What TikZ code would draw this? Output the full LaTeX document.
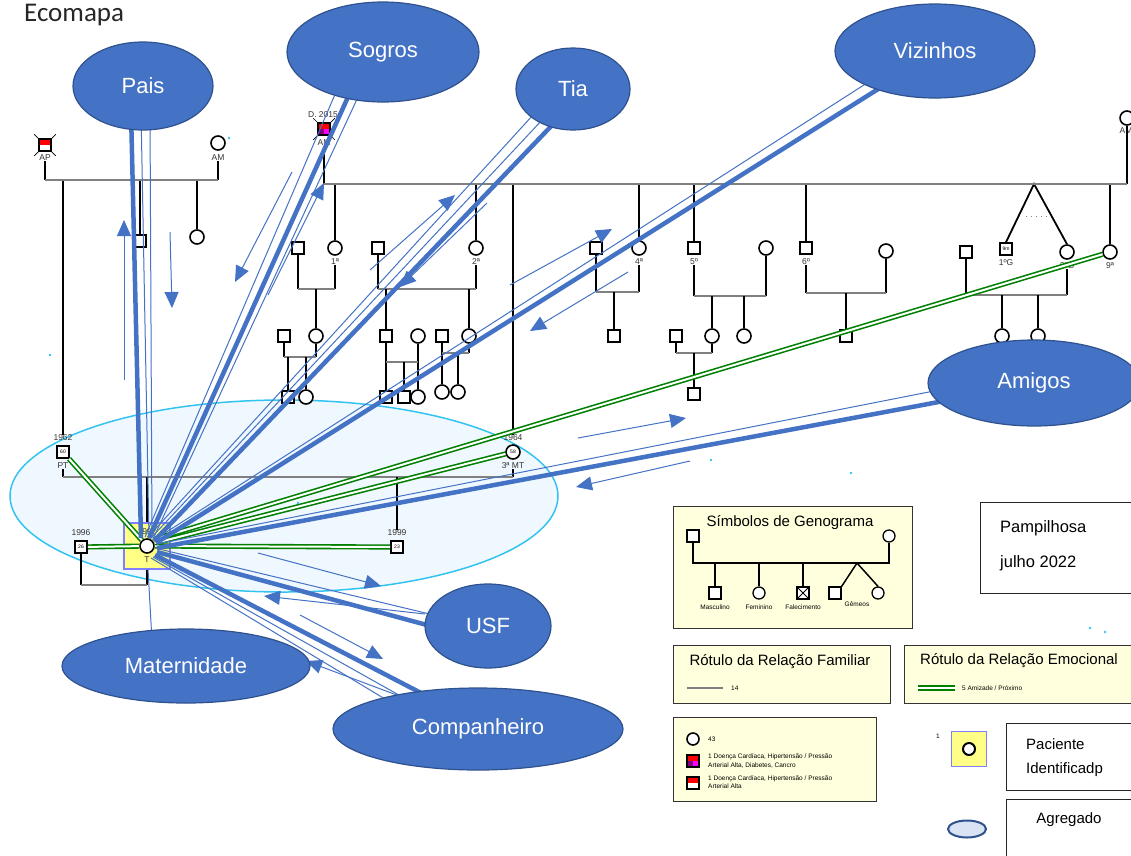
\documentclass[tikz,border=0pt]{standalone}
\usepackage{fontspec}
\setmainfont{Liberation Sans}
\newfontfamily\titlefont{Carlito}
\usetikzlibrary{shapes.geometric,arrows.meta,calc}
\definecolor{ecoblue}{HTML}{4472C4}
\definecolor{ecoedge}{HTML}{2F528F}
\definecolor{famgray}{HTML}{808080}
\definecolor{emogreen}{HTML}{008000}
\definecolor{legfill}{HTML}{FFFFDD}
\definecolor{hhfill}{HTML}{F0F8FF}
\definecolor{hhedge}{HTML}{33C3F0}
\definecolor{ptfill}{HTML}{FFFF88}
\definecolor{ptedge}{HTML}{7F7FFF}
\definecolor{dpurple}{HTML}{800080}
\definecolor{dmagenta}{HTML}{FF00FF}
\definecolor{dred}{HTML}{FF0000}
\definecolor{aggfill}{HTML}{DAE3F3}
\newcommand{\agefont}{\fontsize{5}{5}\selectfont}
\pgfdeclarelayer{back}
\pgfdeclarelayer{front}
\pgfsetlayers{back,main,front}
\tikzset{
  eco/.style={ellipse, draw=ecoedge, line width=1.2pt, fill=ecoblue, text=white, font=\fontsize{22}{26}\selectfont, inner sep=0pt},
  male/.style={rectangle, draw=black, line width=1.6pt, fill=white, minimum size=12pt, inner sep=0pt},
  female/.style={circle, draw=black, line width=1.6pt, fill=white, minimum size=14pt, inner sep=0pt},
  lbl/.style={font=\fontsize{8.5}{9}\selectfont, text=black!80, inner sep=0pt},
  fam/.style={draw=famgray, line width=1.8pt},
  desc/.style={draw=black, line width=1.8pt},
  emo/.style={draw=emogreen, double=white, double distance=2pt, line width=1.6pt},
  bthick/.style={draw=ecoblue, line width=4.5pt},
  bthin/.style={draw=ecoblue, line width=1pt},
  barrow/.style={draw=ecoblue, line width=1pt, -{Triangle[length=16pt,width=14pt]}},
  legbox/.style={draw=black!80, line width=1pt, fill=legfill, anchor=north west, inner sep=0pt},
  wbox/.style={draw=black!85, line width=1pt, fill=white, anchor=north west, inner sep=0pt},
  legtitle/.style={font=\fontsize{15}{18}\selectfont, inner sep=0pt},
  bigtxt/.style={font=\fontsize{16.5}{19}\selectfont, inner sep=0pt, anchor=west},
  legsmall/.style={font=\fontsize{6.5}{8.5}\selectfont, inner sep=0pt, align=left},
  legline/.style={draw=black, line width=1.5pt},
  halfred/.style={path picture={\fill[dred] (path picture bounding box.north west) rectangle (path picture bounding box.east);}},
  quadfill/.style={path picture={\fill[dred] (path picture bounding box.north west) rectangle (path picture bounding box.east);
     \fill[dpurple] (path picture bounding box.west) rectangle (path picture bounding box.south);
     \fill[dmagenta] (path picture bounding box.center) rectangle (path picture bounding box.south east);}},
  crossed/.style={path picture={\draw[black, line width=0.8pt] (path picture bounding box.north west) -- (path picture bounding box.south east) (path picture bounding box.north east) -- (path picture bounding box.south west);}},
}
\begin{document}
\begin{tikzpicture}[x=1pt,y=-1pt]
\useasboundingbox (0,0) rectangle (1131,855);

% ---------- ecomap circles (front layer) ----------
\begin{pgfonlayer}{front}
\node[eco, minimum width=140pt, minimum height=88pt] (pais) at (143,86) {Pais};
\node[eco, minimum width=192pt, minimum height=100pt] (sogros) at (383,52) {Sogros};
\node[eco, minimum width=114pt, minimum height=82pt] (tia) at (573,89) {Tia};
\node[eco, minimum width=200pt, minimum height=94pt] (vizinhos) at (935,51) {Vizinhos};
\node[eco, minimum width=212pt, minimum height=86pt] (amigos) at (1034,383) {Amigos};
\node[eco, minimum width=126pt, minimum height=84pt] (usf) at (488,626) {USF};
\node[eco, minimum width=248pt, minimum height=74pt] (mat) at (186,666) {Maternidade};
\node[eco, minimum width=290pt, minimum height=82pt] (comp) at (478,729) {Companheiro};
\end{pgfonlayer}

% ---------- household ----------
\begin{pgfonlayer}{back}
\node[ellipse, draw=hhedge, fill=hhfill, line width=1.5pt, minimum width=548pt, minimum height=192pt] (hh) at (284,496) {};
\end{pgfonlayer}

\node[font=\titlefont\fontsize{27}{30}\selectfont, anchor=west, inner sep=0pt, text=black!85] (title) at (24,15) {Ecomapa};

% ---------- generation 1 left ----------
\node[male, halfred] (ap) at (45,145) {};
\node[lbl] (lap) at (45,158) {AP};
\node[female] (am1) at (218,143) {};
\node[lbl] (lam1) at (218,158) {AM};
\coordinate (m1l) at (45,180);
\coordinate (m1r) at (218,180);
\draw[desc] (lap.south) -- (m1l);
\draw[desc] (lam1.south) -- (m1r);
\node[male] (s1) at (140,241) {};
\node[female] (f1) at (197,237) {};
\node[lbl] (ypt) at (63,438) {1962};
\node[male] (pt) at (63,452) {\agefont 60};
\node[lbl] (lpt) at (63,466) {PT};
\draw[desc] (ypt.north) -- (ypt.north |- m1l);
\draw[desc] (s1.north) -- (s1.north |- m1l);
\draw[desc] (f1.north) -- (f1.north |- m1l);
\draw[fam] (m1l) -- (m1r);

% ---------- generation 1 right ----------
\node[lbl] (yamd) at (323,115) {D. 2015};
\node[male, quadfill] (amd) at (324,129) {};
\node[lbl] (lamd) at (324,143) {AM};
\node[female] (am2) at (1127,118) {};
\node[lbl] (lam2) at (1126,131) {AM};
\begin{pgfonlayer}{back}
\draw[black, line width=0.7pt] ($(ap.north west)+(-4,-4)$) -- ($(ap.south east)+(4,4)$) ($(ap.north east)+(4,-4)$) -- ($(ap.south west)+(-4,4)$);
\draw[black, line width=0.7pt] ($(amd.north west)+(-4,-4)$) -- ($(amd.south east)+(4,4)$) ($(amd.north east)+(4,-4)$) -- ($(amd.south west)+(-4,4)$);
\end{pgfonlayer}
\coordinate (m2l) at (324,184);
\coordinate (m2r) at (1127,184);
\draw[desc] (lamd.south) -- (m2l);
\draw[desc] (am2.south) -- (m2r);

% children of generation 2
\node[female] (c1) at (335,248) {}; \node[lbl] (lc1) at (335,262) {1ª};
\node[female] (c2) at (476,248) {}; \node[lbl] (lc2) at (476,262) {2ª};
\node[female] (c4) at (639,248) {}; \node[lbl] (lc4) at (639,262) {4ª};
\node[male] (c5) at (694,248) {}; \node[lbl] (lc5) at (694,262) {5º};
\node[male] (c6) at (806,248) {}; \node[lbl] (lc6) at (806,262) {6º};
\node[male] (g1) at (1006,249) {\agefont 9m}; \node[lbl] (lg1) at (1006,263) {1ºG};
\node[female] (g2) at (1067,252) {}; \node[lbl] (lg2) at (1067,266) {2ºG};
\node[female] (c9) at (1110,252) {}; \node[lbl] (lc9) at (1110,266) {9ª};
\foreach \n in {c1,c2,c4,c5,c6,c9} \draw[desc] (\n.north) -- (\n.north |- m2l);
\coordinate (tw) at (1034,184);
\draw[desc] (g1.north) -- (tw) -- (g2.north);
\coordinate (dt1) at (1026,216);
\coordinate (dt2) at (1050,216);
\draw[famgray, line width=0.8pt, dash pattern=on 1pt off 4pt] (dt1) -- (dt2);

\node[lbl] (ymt) at (513,438) {1964};
\node[female] (mt) at (513,452) {\agefont 58};
\node[lbl] (lmt) at (513,466) {3ª MT};
\draw[desc] (ymt.north) -- (ymt.north |- m2l);
\draw[fam] (m2l) -- (m2r);

% spouses
\node[male] (sp1) at (298,248) {};
\node[male] (sp2) at (378,248) {};
\node[male] (sp4) at (596,248) {};
\node[female] (sp5) at (766,248) {};
\node[female] (sp6) at (886,251) {};
\node[male] (spg) at (966,252) {};

\coordinate (mAl) at (298,289); \coordinate (mAr) at (335,289);
\draw[desc] (sp1.south) -- (mAl); \draw[desc] (lc1.south) -- (mAr); \draw[fam] (mAl) -- (mAr);
\coordinate (mBl) at (378,289); \coordinate (mBr) at (476,289);
\draw[desc] (sp2.south) -- (mBl); \draw[desc] (lc2.south) -- (mBr); \draw[fam] (mBl) -- (mBr);
\coordinate (mCl) at (596,292); \coordinate (mCr) at (639,292);
\draw[desc] (sp4.south) -- (mCl); \draw[desc] (lc4.south) -- (mCr); \draw[fam] (mCl) -- (mCr);
\coordinate (mDl) at (694,296); \coordinate (mDr) at (766,296);
\draw[desc] (lc5.south) -- (mDl); \draw[desc] (sp5.south) -- (mDr); \draw[fam] (mDl) -- (mDr);
\coordinate (mEl) at (806,293); \coordinate (mEr) at (886,293);
\draw[desc] (lc6.south) -- (mEl); \draw[desc] (sp6.south) -- (mEr); \draw[fam] (mEl) -- (mEr);
\coordinate (mFl) at (966,295); \coordinate (mFr) at (1067,295);
\draw[desc] (spg.south) -- (mFl); \draw[desc] (lg2.south) -- (mFr); \draw[fam] (mFl) -- (mFr);

% row 2
\node[male] (r2a) at (284,336) {};
\node[female] (r2b) at (316,336) {};
\node[male] (r2c) at (386,336) {};
\node[female] (r2d) at (418,336) {};
\node[male] (r2e) at (442,336) {};
\node[female] (r2f) at (469,336) {};
\node[male] (r2g) at (614,336) {};
\node[male] (r2h) at (676,336) {};
\node[female] (r2i) at (712,336) {};
\node[female] (r2j) at (744,336) {};
\node[male] (r2k) at (846,336) {};
\node[female] (r2l) at (1002,336) {};
\node[female] (r2m) at (1038,336) {};
\draw[desc] (r2b.north) -- (r2b.north |- mAl);
\draw[desc] (r2c.north) -- (r2c.north |- mBl);
\draw[desc] (r2f.north) -- (r2f.north |- mBl);
\draw[desc] (r2g.north) -- (r2g.north |- mCl);
\draw[desc] (r2i.north) -- (r2i.north |- mDl);
\draw[desc] (r2j.north) -- (r2j.north |- mDl);
\draw[desc] (r2k.north) -- (r2k.north |- mEl);
\draw[desc] (r2l.north) -- (r2l.north |- mFl);
\draw[desc] (r2m.north) -- (r2m.north |- mFl);

% row 3
\node[male] (r3a) at (288,397) {};
\node[female] (r3b) at (306,397) {};
\node[male] (r3c) at (386,397) {};
\node[male] (r3d) at (404,397) {};
\node[female] (r3e) at (418,397) {};
\node[female] (r3f) at (442,392) {};
\node[female] (r3g) at (458,392) {};
\node[male] (r3h) at (694,394) {};
\coordinate (mGl) at (284,357); \coordinate (mGr) at (316,357);
\draw[desc] (r2a.south) -- (mGl); \draw[desc] (r2b.south) -- (mGr); \draw[fam] (mGl) -- (mGr);
\draw[desc] (r3a.north) -- (r3a.north |- mGl);
\draw[desc] (r3b.north) -- (r3b.north |- mGl);
\coordinate (mHl) at (386,362); \coordinate (mHr) at (418,362);
\draw[desc] (r2c.south) -- (r3c.north); \draw[desc] (r2d.south) -- (r3e.north); \draw[fam] (mHl) -- (mHr);
\draw[desc] (r3d.north) -- (r3d.north |- mHl);
\coordinate (mIl) at (442,353); \coordinate (mIr) at (469,353);
\draw[desc] (r2e.south) -- (r3f.north); \draw[desc] (r2f.south) -- (mIr); \draw[fam] (mIl) -- (mIr);
\draw[desc] (r3g.north) -- (r3g.north |- mIl);
\coordinate (mJl) at (676,353); \coordinate (mJr) at (712,353);
\draw[desc] (r2h.south) -- (mJl); \draw[desc] (r2i.south) -- (mJr); \draw[fam] (mJl) -- (mJr);
\draw[desc] (r3h.north) -- (r3h.north |- mJl);

% ---------- generation 3 / patient ----------
\coordinate (mKl) at (63,477); \coordinate (mKr) at (513,477);
\draw[desc] (lpt.south) -- (mKl); \draw[desc] (lmt.south) -- (mKr); \draw[fam] (mKl) -- (mKr);
\node[rectangle, draw=ptedge, fill=ptfill, line width=1.5pt, minimum size=46pt, inner sep=0pt] (ptbox) at (147,546) {};
\node[female] (T) at (147,546) {};
\node[lbl] (yT) at (147,532) {1992};
\node[lbl] (lT) at (147,560) {T};
\draw[desc] (ptbox.north) -- (ptbox.north |- mKl);
\node[lbl] (ys23) at (397,533) {1999};
\node[male] (s23) at (397,547) {\agefont 23};
\draw[desc] (ys23.north) -- (ys23.north |- mKl);
\node[lbl] (ys26) at (81,533) {1996};
\node[male] (s26) at (81,547) {\agefont 26};
\coordinate (mLl) at (81,585); \coordinate (mLr) at (147,585);
\draw[desc] (s26.south) -- (mLl); \draw[desc] (ptbox.south) -- (mLr); \draw[fam] (mLl) -- (mLr);

% ---------- emotional relations ----------
\draw[emo] (pt) -- (T);
\draw[emo] (s26) -- (T);
\draw[emo] (T) -- (s23);
\draw[emo] ($(T)+(8,-3)$) -- (mt);
\draw[emo] ($(T)+(8,-7)$) -- (c9);

% ---------- ecomap connections ----------
% Pais
\draw[bthick] ($(pais)+(-12,25)$) -- ($(T)+(-6,-8)$);
\draw[bthin] ($(pais)+(-2,25)$) -- ($(T)+(2,-8)$);
\draw[bthin] ($(pais)+(7,25)$) -- ($(T)+(5,-8)$);
\draw[barrow] (124,380) -- (124,220);
\draw[barrow] (170,232) -- (172,308);
% Sogros
\draw[bthick] ($(sogros)+(-35,45)$) -- ($(T)+(2,-8)$);
\draw[bthin] ($(sogros)+(-47,40)$) -- ($(T)+(-2,-9)$);
\draw[bthin] ($(sogros)+(-25,45)$) -- ($(T)+(6,-7)$);
\draw[barrow] (292,172) -- (235,282);
\draw[barrow] (268,295) -- (324,183);
% Tia
\draw[bthick] ($(tia)+(-15,30)$) -- ($(T)+(7,-5)$);
\draw[bthin] ($(tia)+(-30,30)$) -- ($(T)+(4,-8)$);
\draw[bthin] ($(tia)+(-40,26)$) -- ($(T)+(1,-9)$);
\draw[barrow] (370,270) -- (455,195);
\draw[barrow] (487,203) -- (400,287);
% Vizinhos
\draw[bthick] ($(vizinhos)+(-52,35)$) -- ($(T)+(9,-3)$);
\draw[bthin] ($(vizinhos)+(-68,32)$) -- ($(T)+(7,-6)$);
\draw[barrow] (510,285) -- (612,229);
\draw[barrow] (628,272) -- (530,331);
% Amigos
\draw[bthick] ($(amigos)+(-90,18)$) -- ($(T)+(10,2)$);
\draw[bthin] ($(amigos)+(-90,6)$) -- ($(T)+(10,-2)$);
\draw[barrow] (578,438) -- (686,418);
\draw[barrow] (690,461) -- (576,487);
% USF
\draw[bthick] ($(usf)+(-50,2)$) -- ($(T)+(10,6)$);
\draw[bthin] ($(usf)+(-50,-10)$) -- ($(T)+(12,3)$);
\draw[barrow] (258,553) -- (381,586);
\draw[barrow] (425,614) -- (264,596);
% Companheiro
\draw[bthick] ($(comp)+(-55,-35)$) -- ($(T)+(8,9)$);
\draw[bthin] ($(comp)+(-72,-30)$) -- ($(T)+(6,11)$);
\draw[bthin] ($(comp)+(-88,-27)$) -- ($(T)+(4,12)$);
\draw[barrow] (300,615) -- (383,659);
\draw[barrow] (410,700) -- (306,661);
% Maternidade
\draw[bthin] ($(mat)+(-34,-25)$) -- ($(T)+(1,23)$);

% small dots
\foreach \p in {(229,138),(50,355),(711,460),(851,473),(1090,628),(1105,632),(298,503)}
  \fill[hhedge] \p circle (1.3);

% ---------- legend: symbols ----------
\node[legbox, minimum width=239pt, minimum height=122pt] (symbox) at (673,506) {};
\node[legtitle] (symt) at (790,523) {Símbolos de Genograma};
\node[male, line width=1.3pt] (lgm) at (693,536) {};
\node[female, line width=1.3pt, minimum size=12pt] (lgf) at (889,536) {};
\coordinate (lgl) at (693,563); \coordinate (lgr) at (889,563);
\draw[legline] (lgm.south) -- (lgl) -- (lgr) -- (lgf.south);
\node[male, line width=1.3pt] (lg1) at (715,593) {};
\node[female, line width=1.3pt, minimum size=12pt] (lg2) at (759,593) {};
\node[male, line width=1.3pt, crossed] (lg3) at (803,593) {};
\node[male, line width=1.3pt] (lg4) at (835,593) {};
\node[female, line width=1.3pt, minimum size=12pt] (lg5) at (878,593) {};
\coordinate (lgtw) at (857,563);
\foreach \n in {lg1,lg2,lg3} \draw[legline] (\n.north) -- (\n.north |- lgl);
\draw[legline] (lg4.north east) -- (lgtw) -- (lg5.north);
\node[legsmall] (t1) at (715,607) {Masculino};
\node[legsmall] (t2) at (759,607) {Feminino};
\node[legsmall] (t3) at (803,607) {Falecimento};
\node[legsmall] (t4) at (857,604) {Gêmeos};

% ---------- legend: family relation ----------
\node[legbox, minimum width=217pt, minimum height=58pt] (famb) at (673,645) {};
\node[legtitle] (famt) at (780,662) {Rótulo da Relação Familiar};
\coordinate (fl1) at (687,688); \coordinate (fl2) at (723,688);
\draw[fam] (fl1) -- (fl2);
\node[legsmall, anchor=west] (famn) at (731,688) {14};

% ---------- legend: emotional relation ----------
\node[legbox, minimum width=240pt, minimum height=58pt] (emob) at (904,645) {};
\node[legtitle, anchor=west] (emot) at (920,661) {Rótulo da Relação Emocional};
\coordinate (el1) at (918,688); \coordinate (el2) at (955,688);
\draw[emo] (el1) -- (el2);
\node[legsmall, anchor=west] (emon) at (962,688) {5 Amizade / Próximo};

% ---------- legend: diseases ----------
\node[legbox, minimum width=203pt, minimum height=84pt] (disb) at (673,717) {};
\node[female, minimum size=12pt] (d1) at (693,739) {};
\node[legsmall, anchor=west] (d1t) at (708,739) {43};
\node[male, quadfill] (d2) at (693,761) {};
\node[legsmall, anchor=west] (d2t) at (708,761) {1 Doença Cardíaca, Hipertensão / Pressão\\Arterial Alta, Diabetes, Cancro};
\node[male, halfred] (d3) at (693,783) {};
\node[legsmall, anchor=west] (d3t) at (708,782) {1 Doença Cardíaca, Hipertensão / Pressão\\Arterial Alta};

% ---------- place / date ----------
\node[wbox, minimum width=160pt, minimum height=91pt] (placeb) at (980,502) {};
\node[bigtxt] (place) at (1000,528) {Pampilhosa};
\node[bigtxt] (date) at (1000,563) {julho 2022};

% ---------- legend: patient ----------
\node[legsmall] (pone) at (938,736) {1};
\node[rectangle, draw=ptedge, fill=ptfill, line width=1.5pt, minimum size=35pt, inner sep=0pt] (ptleg) at (969,749) {};
\node[female, line width=2pt, minimum size=12pt] (ptlegc) at (969,749) {};
\node[wbox, minimum width=140pt, minimum height=67pt] (ptlegb) at (1006,723) {};
\node[bigtxt, font=\fontsize{15}{18}\selectfont] (ptl1) at (1026,744) {Paciente};
\node[bigtxt, font=\fontsize{15}{18}\selectfont] (ptl2) at (1026,770) {Identificadp};

% ---------- legend: household ----------
\node[ellipse, draw=ecoedge, fill=aggfill, line width=2pt, minimum width=38pt, minimum height=17pt, inner sep=0pt] (aggleg) at (967,829) {};
\node[wbox, minimum width=140pt, minimum height=70pt] (aggb) at (1006,799) {};
\node[legtitle] (aggt) at (1069,820) {Agregado};
\end{tikzpicture}
\end{document}
